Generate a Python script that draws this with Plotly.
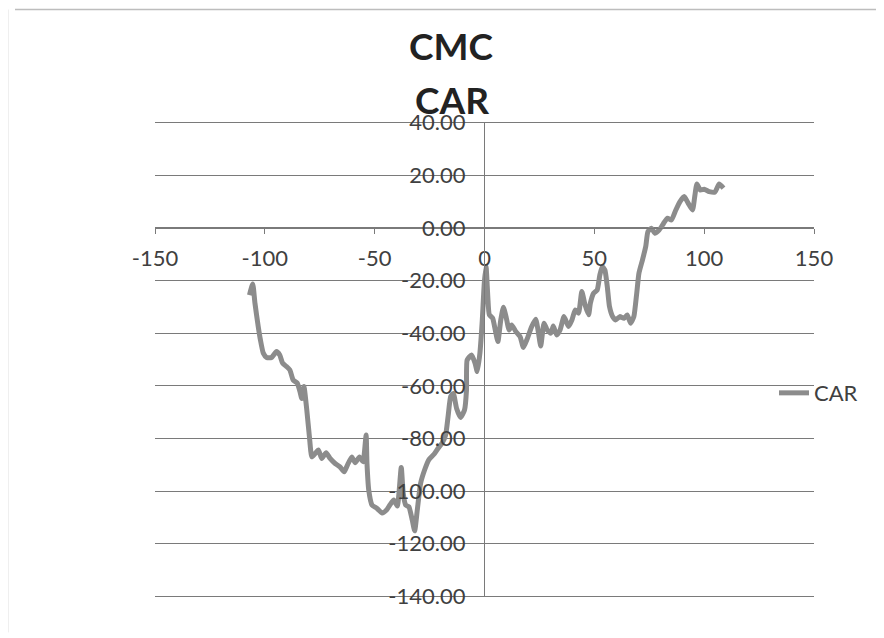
import plotly.graph_objects as go

# Event day (x) and cumulative abnormal return (y)
event_day = [
    -107, -105.5, -104.5, -103, -102, -100.7, -99.2, -96.9, -94.7, -93.2, -91.9, -90.1, -88.6, -87.1,
    -85.2, -84, -83.2, -82.2, -80.9, -79.7, -78.6, -77.1, -75.6, -74.1, -72.1, -70.3, -68, -65.8,
    -63.9, -62.4, -60.4, -58.9, -56.9, -55.3, -53.9, -53.5, -52.7, -51.2, -48.9, -46.6, -44.6, -43.1,
    -41.3, -39.7, -37.9, -37, -35.9, -34.4, -32.9, -31.8, -30.6, -29.1, -27.2, -25.3, -23, -21.2,
    -19.2, -17.7, -16.6, -15.4, -14.2, -12.7, -10.9, -9.1, -8.2, -7.9, -5.9, -4.3, -3.3, -2.1,
    -1, -0.1, 0.7, 1.5, 2.2, 3.7, 4.9, 6.1, 7.4, 8.6, 9.8, 11.2, 12.4, 14.3,
    16.2, 17.7, 19.5, 21.5, 23.3, 24.6, 25.6, 27.1, 28.6, 30.2, 31.3, 32.9, 34.4, 36.2,
    38.2, 39.8, 41.3, 42.8, 44.3, 45.8, 47.4, 48.2, 49.7, 51.3, 52.5, 53.6, 54.8, 55.9,
    56.9, 58.2, 59.7, 61.6, 63.5, 65, 66.5, 68, 69.3, 70.3, 71.9, 73.4, 74.4, 76,
    77.5, 79.5, 81.5, 83.3, 85.1, 87.1, 89, 90.9, 92.7, 94.7, 95.7, 96.7, 98.2, 100,
    102.3, 104.9, 106.8, 108.8,
]
car = [
    -25.5, -21.3, -28.6, -37.5, -42.6, -47.6, -49.2, -49.2, -47.0, -48.3, -51.4, -52.7, -54.0, -57.8,
    -59.0, -62.2, -64.8, -60.3, -69.2, -79.4, -87.0, -85.7, -84.4, -87.6, -85.4, -87.6, -89.5, -90.8,
    -92.7, -90.1, -87.0, -89.2, -87.0, -88.9, -78.7, -89.5, -99.6, -105.3, -106.6, -108.3, -107.2, -105.3,
    -103.4, -105.7, -91.0, -100.9, -105.3, -106.0, -111.0, -115.1, -107.2, -97.1, -91.8, -88.0, -86.0, -83.8,
    -81.6, -78.7, -71.8, -64.1, -62.9, -68.6, -72.0, -69.2, -61.6, -50.2, -48.3, -51.4, -54.6, -47.6,
    -35.0, -21.0, -14.7, -26.1, -33.0, -34.3, -38.8, -43.2, -35.0, -30.1, -33.7, -38.8, -36.9, -39.4,
    -41.3, -45.4, -42.0, -37.5, -34.7, -40.0, -44.9, -36.2, -38.8, -40.0, -37.3, -40.7, -38.8, -33.7,
    -37.5, -35.0, -31.2, -32.4, -24.2, -29.3, -33.0, -28.6, -24.8, -23.6, -17.9, -14.7, -16.0, -22.3,
    -29.9, -33.5, -35.0, -33.7, -34.3, -33.1, -36.2, -33.7, -24.8, -17.2, -12.2, -7.1, -1.4, -0.1,
    -2.0, -0.8, 1.7, 3.7, 3.0, 6.8, 10.0, 11.9, 9.4, 6.8, 11.9, 16.7, 14.4, 14.7,
    13.8, 13.6, 16.7, 15.1,
]

x_tick_vals = [-150, -100, -50, 0, 50, 100, 150]
x_tick_text = ["-150", "-100", "-50", "0", "50", "100", "150"]
y_tick_vals = [40, 20, 0, -20, -40, -60, -80, -100, -120, -140]
y_tick_text = ["40.00", "20.00", "0.00", "-20.00", "-40.00", "-60.00", "-80.00", "-100.00", "-120.00", "-140.00"]

title_lines = ["CMC", "CAR"]
series_name = "CAR"

FONT = "Lato"
GRID = "#7a7a7a"

# the page body has an 8px margin; screen coords below are shifted by it
OFF = 8
PAD = 1.0          # extra value range so the edge gridlines are drawn
PPU = 473 / 180    # pixels per y unit
W, H = 884 - OFF, 638 - OFF
L, R = 155 - OFF, 814 - OFF
T = 123 - OFF - PAD * PPU
B = 596 - OFF + PAD * PPU
Y0, Y1 = -140 - PAD, 40 + PAD


def px_x(p):
    return (p - OFF - L) / (R - L)


def px_y(p):
    return (B - (p - OFF)) / (B - T)


fig = go.Figure()
fig.add_trace(go.Scatter(
    x=event_day, y=car, mode="lines", name=series_name,
    line=dict(color="#8c8c8c", width=5, shape="spline", smoothing=0.5),
))

fig.update_layout(
    width=W, height=H,
    margin=dict(l=L, r=W - R, t=T, b=H - B),
    paper_bgcolor="white", plot_bgcolor="white",
    font=dict(family=FONT, size=22, color="#404040"),
    showlegend=True,
    legend=dict(x=px_x(774), y=px_y(393), xanchor="left", yanchor="middle",
                font=dict(family=FONT, size=22, color="#404040"),
                bgcolor="rgba(0,0,0,0)"),
    xaxis=dict(
        range=[-150, 150], anchor="free", position=(0 - Y0) / (Y1 - Y0),
        tickmode="array", tickvals=x_tick_vals, ticktext=x_tick_text,
        showline=True, linecolor=GRID, linewidth=1,
        ticks="outside", ticklen=5, tickcolor=GRID,
        showgrid=False, zeroline=False, ticklabelstandoff=6,
    ),
    yaxis=dict(
        range=[Y0, Y1], anchor="free", position=0.5,
        tickmode="array", tickvals=y_tick_vals, ticktext=y_tick_text,
        showline=False,
        ticks="", showgrid=True, gridcolor=GRID, gridwidth=1,
        zeroline=False, ticklabelstandoff=19,
    ),
    annotations=[
        dict(text=title_lines[0], x=px_x(451), y=px_y(46), xref="paper", yref="paper",
             showarrow=False, xanchor="center", yanchor="middle",
             font=dict(family=FONT, size=37, color="#222222", weight="bold")),
        dict(text=title_lines[1], x=px_x(452), y=px_y(100), xref="paper", yref="paper",
             showarrow=False, xanchor="center", yanchor="middle",
             font=dict(family=FONT, size=37, color="#222222", weight="bold")),
    ],
    shapes=[
        # vertical axis line at x = 0 spanning the value range
        dict(type="line", xref="x", yref="y", x0=0, x1=0, y0=-140, y1=40,
             line=dict(color=GRID, width=1)),
        dict(type="line", xref="paper", yref="paper", x0=px_x(15), x1=px_x(884),
             y0=px_y(10), y1=px_y(10), line=dict(color="#bdbdbd", width=1.5)),
        dict(type="line", xref="paper", yref="paper", x0=px_x(8), x1=px_x(8),
             y0=px_y(10), y1=px_y(632), line=dict(color="#e0e0e0", width=1)),
    ],
)

fig.write_html("out.html")
